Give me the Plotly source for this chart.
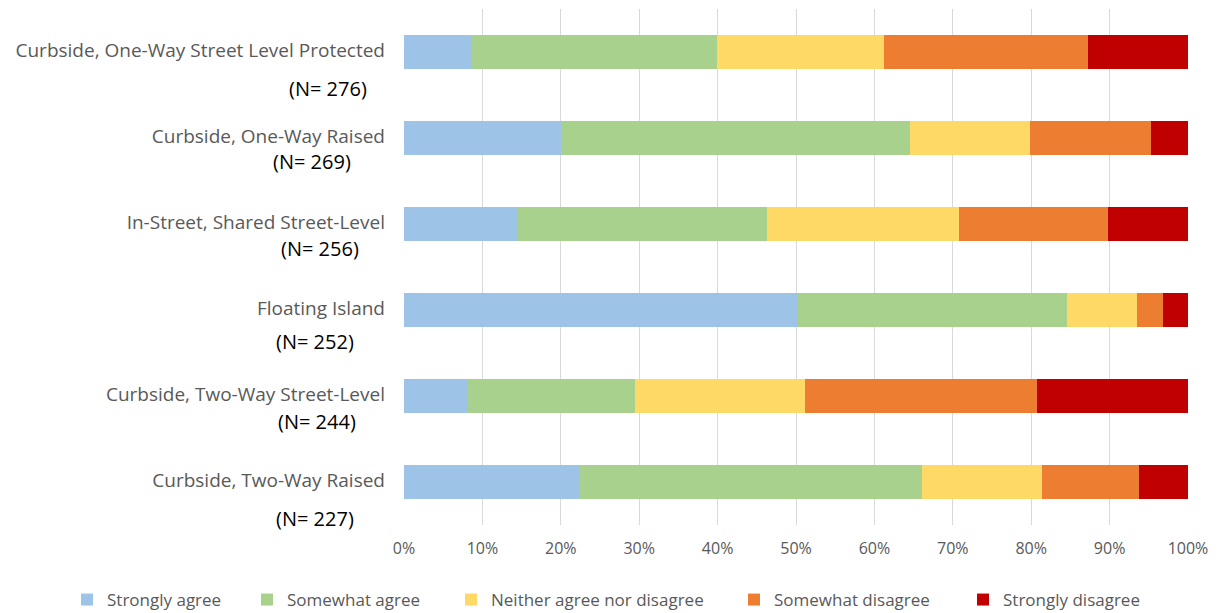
import plotly.graph_objects as go

# Facility types, listed top to bottom
facilities = [
    "Curbside, One-Way Street Level Protected",
    "Curbside, One-Way Raised",
    "In-Street, Shared Street-Level",
    "Floating Island",
    "Curbside, Two-Way Street-Level",
    "Curbside, Two-Way Raised",
]
sample_sizes = [276, 269, 256, 252, 244, 227]

# Share of respondents (%) per response
strongly_agree = [8.6, 20.0, 14.5, 50.3, 8.2, 22.4]
somewhat_agree = [31.3, 44.6, 31.8, 34.3, 21.2, 43.7]
neither = [21.3, 15.2, 24.5, 8.9, 21.8, 15.3]
somewhat_disagree = [26.0, 15.5, 19.0, 3.3, 29.5, 12.35]
strongly_disagree = [12.8, 4.7, 10.2, 3.2, 19.3, 6.25]

responses = [
    ("Strongly agree", strongly_agree, "#9DC3E6"),
    ("Somewhat agree", somewhat_agree, "#A9D18E"),
    ("Neither agree nor disagree", neither, "#FFD966"),
    ("Somewhat disagree", somewhat_disagree, "#ED7D31"),
    ("Strongly disagree", strongly_disagree, "#C00000"),
]

FONT = "Open Sans"
GREY = "#595959"

W, H = 1221, 613
L, R, T, B = 404, 33, 9, 88
plot_w = W - L - R
plot_h = H - T - B

# Each response gets its own one-entry legend so the key spacing can be set
legend_ids = ["legend", "legend2", "legend3", "legend4", "legend5"]
legend_text_x = [107, 287, 491, 774, 1003]

fig = go.Figure()
for (name, vals, color), lid in zip(responses, legend_ids):
    fig.add_trace(go.Bar(
        y=facilities, x=vals, name=name, orientation="h",
        marker=dict(color=color, line=dict(width=0)),
        hoverinfo="x+name", legend=lid, showlegend=True,
    ))

# Sample size notes beside the category labels (pixel centres)
n_pos = [(328, 88), (312, 162), (320, 248), (315, 341), (317, 421), (315, 518)]
for n, (px, py) in zip(sample_sizes, n_pos):
    fig.add_annotation(
        text=f"(N= {n})", xref="paper", yref="paper",
        x=(px - L) / plot_w, y=(H - B - py) / plot_h,
        xanchor="center", yanchor="middle", showarrow=False,
        font=dict(family=FONT, size=20, color="#000000"),
    )

legend_layout = {}
for lid, tx in zip(legend_ids, legend_text_x):
    legend_layout[lid] = dict(
        xref="container", yref="container",
        x=(tx - 40) / W, xanchor="left",
        y=(H - 600) / H, yanchor="middle",
        font=dict(family=FONT, size=17, color=GREY),
        bgcolor="rgba(0,0,0,0)", borderwidth=0,
        visible=True,
    )

fig.update_layout(
    width=W, height=H,
    showlegend=True,
    margin=dict(l=L, r=R, t=T, b=B, autoexpand=False),
    barmode="stack", bargap=0.605,
    plot_bgcolor="white", paper_bgcolor="white",
    font=dict(family=FONT, color=GREY),
    xaxis=dict(
        range=[0, 100], dtick=10, ticksuffix="%",
        showgrid=True, gridcolor="#D9D9D9", gridwidth=1,
        zeroline=False, showline=False,
        tickfont=dict(family=FONT, size=16, color=GREY),
        ticklabelstandoff=12,
    ),
    yaxis=dict(
        categoryorder="array", categoryarray=facilities,
        autorange="reversed", showgrid=False, zeroline=False,
        tickfont=dict(family=FONT, size=19, color=GREY),
        ticklabelstandoff=18, ticklabelshift=2,
    ),
    **legend_layout,
)

fig.write_html("out.html")
